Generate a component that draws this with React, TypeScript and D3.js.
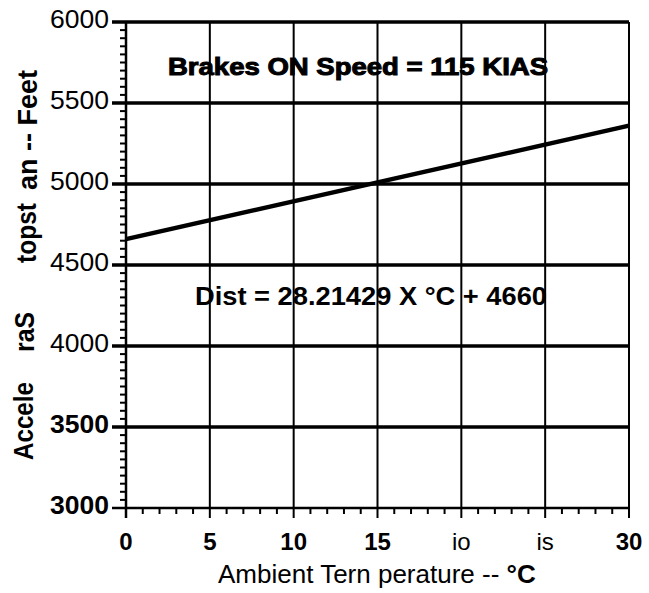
import * as d3 from 'd3';

// values
const tempTicks = [0, 5, 10, 15, 20, 25, 30];
const tempTickLabels = ['0', '5', '10', '15', 'io', 'is', '30'];
const distTicks = [3000, 3500, 4000, 4500, 5000, 5500, 6000];
const distTickLabels = ['3000', '3500', '4000', '4500', '5000', '5500', '6000'];
const lineTemps = [0, 15, 30];
const lineDists = [4660, 5010, 5360];
const chartTitle = 'Brakes ON Speed = 115 KIAS';
const equationText = 'Dist = 28.21429 X °C + 4660';

const W = 649;
const H = 593;
const plot = { left: 126, right: 629, top: 22, bottom: 508 };

export default function App(): JSX.Element {
  const x = d3.scaleLinear().domain([0, 30]).range([plot.left, plot.right]);
  const y = d3.scaleLinear().domain([3000, 6000]).range([plot.bottom, plot.top]);

  const line = d3.line<number>()
    .x((_, i) => x(lineTemps[i]))
    .y(d => y(d));

  const minorX = d3.range(0, 31, 1).filter(v => v % 5 !== 0);
  const minorY = d3.range(3000, 6001, 50).filter(v => v % 500 !== 0);
  const boldY = new Set(['3000', '3500']);
  const boldX = new Set(['0', '5', '10', '15', '30']);
  const font = 'Liberation Sans, Arial, Helvetica, sans-serif';

  return (
    <svg
      width={W}
      height={H}
      style={{ position: 'absolute', left: 0, top: 0, background: '#fff' }}
      fontFamily={font}
    >
      <rect width={W} height={H} fill="#fff" />

      {/* horizontal grid */}
      {distTicks.map(v => (
        <line key={'h' + v} x1={plot.left - 14} x2={plot.right} y1={y(v)} y2={y(v)}
          stroke="#000" strokeWidth={v === 3000 ? 2.5 : 3.5} />
      ))}
      {/* vertical grid */}
      {tempTicks.map(v => (
        <line key={'v' + v} x1={x(v)} x2={x(v)} y1={plot.top} y2={plot.bottom + 10}
          stroke="#000" strokeWidth={v === 0 ? 2.5 : 2} />
      ))}

      {/* minor ticks */}
      {minorY.map(v => (
        <line key={'my' + v} x1={plot.left - 6} x2={plot.left} y1={y(v)} y2={y(v)}
          stroke="#000" strokeWidth={2} />
      ))}
      {minorX.map(v => (
        <line key={'mx' + v} x1={x(v)} x2={x(v)} y1={plot.bottom} y2={plot.bottom + 6}
          stroke="#000" strokeWidth={2} />
      ))}

      {/* y tick labels */}
      {distTicks.map((v, i) => (
        <text key={'yl' + v} x={plot.left - 17} y={y(v) + 6} textAnchor="end"
          fontSize={25} fontWeight={boldY.has(distTickLabels[i]) ? 'bold' : 'normal'}
          textLength={59} lengthAdjust="spacingAndGlyphs">
          {distTickLabels[i]}
        </text>
      ))}

      {/* x tick labels */}
      {tempTicks.map((v, i) => (
        <text key={'xl' + v} x={x(v)} y={550} textAnchor="middle"
          fontSize={24} fontWeight={boldX.has(tempTickLabels[i]) ? 'bold' : 'normal'}>
          {tempTickLabels[i]}
        </text>
      ))}

      {/* data line */}
      <path d={line(lineDists) ?? ''} fill="none" stroke="#000" strokeWidth={4.5} />

      {/* annotations */}
      <text x={168} y={75} fontSize={24} fontWeight="bold" textLength={380}
        lengthAdjust="spacingAndGlyphs" stroke="#000" strokeWidth={1}>
        {chartTitle}
      </text>
      <text x={195} y={305} fontSize={26} fontWeight="bold" textLength={352}
        lengthAdjust="spacingAndGlyphs">
        {equationText}
      </text>

      {/* axis titles */}
      <text x={218} y={583} fontSize={26}>
        Ambient Tern perature -- <tspan fontWeight="bold">°C</tspan>
      </text>
      <g transform="translate(34,0) rotate(-90)" fontSize={27} fontWeight="bold">
        <text x={-460} y={-1} textLength={78} lengthAdjust="spacingAndGlyphs">Accele</text>
        <text x={-352} y={0} textLength={40} lengthAdjust="spacingAndGlyphs">raS</text>
        <text x={-263} y={2} textLength={60} lengthAdjust="spacingAndGlyphs">topst</text>
        <text x={-190} y={3} textLength={120} lengthAdjust="spacingAndGlyphs">an -- Feet</text>
      </g>
    </svg>
  );
}
